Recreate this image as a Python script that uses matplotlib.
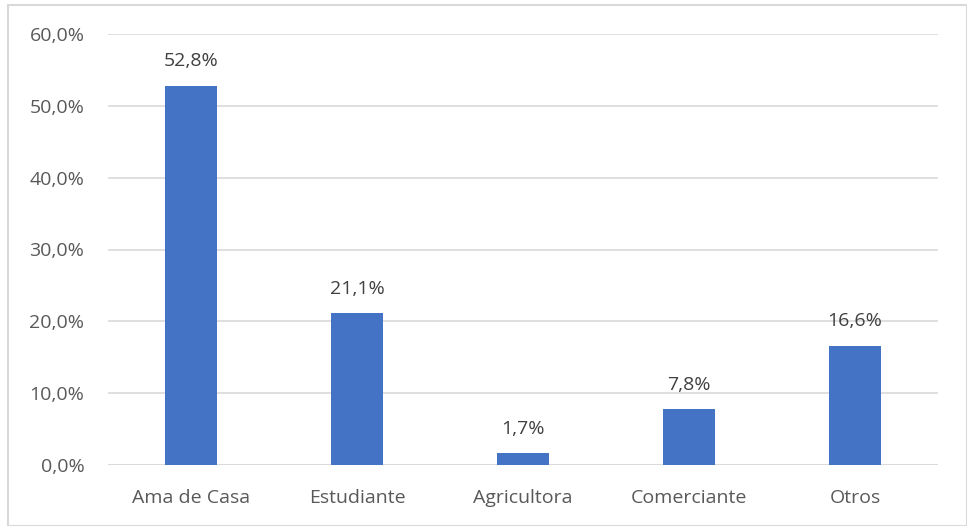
import matplotlib
matplotlib.use("Agg")
import matplotlib.pyplot as plt
from matplotlib.ticker import FuncFormatter
from matplotlib.patches import Rectangle

categories = ["Ama de Casa", "Estudiante", "Agricultora", "Comerciante", "Otros"]
values = [52.8, 21.1, 1.7, 7.8, 16.6]
yticks = [0, 10, 20, 30, 40, 50, 60]

plt.rcParams['font.family'] = ['Open Sans', 'DejaVu Sans']
text_color = "#595959"
grid_color = "#D9D9D9"
bar_color = "#4472C4"

fig = plt.figure(figsize=(9.67, 5.26), dpi=100)
ax = fig.add_axes([108/967, 1 - 465/526, (938-108)/967, (465-34)/526])

x = list(range(len(categories)))
bars = ax.bar(x, values, width=0.315, color=bar_color, zorder=3)
ax.set_xlim(-0.5, len(categories) - 0.5)
ax.set_ylim(0, 60)
ax.set_yticks(yticks)
ax.yaxis.set_major_formatter(FuncFormatter(lambda v, p: f"{v:.1f}%".replace(".", ",")))
ax.set_xticks(x)
ax.set_xticklabels(categories)
ax.tick_params(axis='both', length=0, labelsize=14, colors=text_color)
ax.tick_params(axis='x', pad=17)
ax.tick_params(axis='y', pad=17)
ax.grid(axis='y', color=grid_color, linewidth=1.2, zorder=0)
for s in ax.spines.values():
    s.set_visible(False)
ax.axhline(0, color=grid_color, linewidth=1.2, zorder=2)

for xi, v in zip(x, values):
    ax.annotate(f"{v:.1f}%".replace(".", ","), (xi, v), xytext=(0, 11),
                textcoords="offset points", ha="center", va="bottom",
                fontsize=14, color="#404040")

fig.patches.append(Rectangle((8/967, 0), 1 - 8/967, 1 - 5/526, transform=fig.transFigure,
                             fill=False, edgecolor="#D9D9D9", linewidth=1.5))

fig.savefig("out.png", dpi=100)
